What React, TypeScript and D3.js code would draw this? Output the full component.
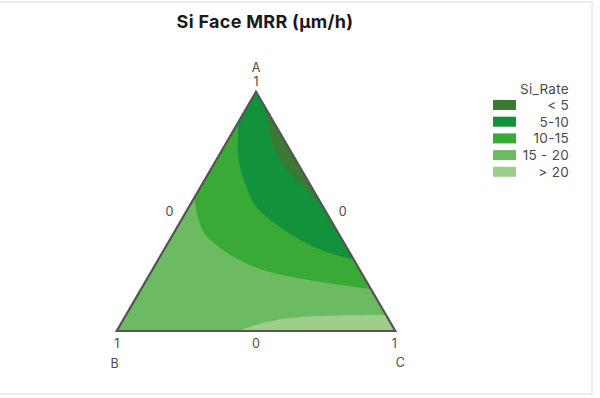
import React from 'react';
import { scaleLinear, line, curveCatmullRom } from 'd3';

// ternary points are [A, C], B = 1 - A - C
const bound15 = [[0.56, 0], [0.48, 0.05], [0.4, 0.12], [0.34, 0.21], [0.28, 0.33], [0.24, 0.45], [0.21, 0.6], [0.175, 0.825]];
const bound10 = [[0.875, 0], [0.81, 0.03], [0.715, 0.08], [0.62, 0.15], [0.52, 0.24], [0.44, 0.36], [0.37, 0.49], [0.32, 0.62], [0.3, 0.7]];
const bound5 = [[0.94, 0.06], [0.86, 0.115], [0.795, 0.16], [0.715, 0.23], [0.645, 0.31], [0.575, 0.41], [0.49, 0.51]];
const bound20 = [[0, 0.44], [0.03, 0.5], [0.053, 0.585], [0.063, 0.69], [0.066, 0.82], [0.067, 0.933]];

const legendLabels = ['< 5', '5-10', '10-15', '15 - 20', '> 20'];
const legendColors = ['#3b7a34', '#13913b', '#3aaa37', '#6cba61', '#9dcf89'];
const axisNames = ['A', 'B', 'C'];
const vertexTicks = ['1', '1', '1'];
const edgeTicks = ['0', '0', '0'];

const xScale = scaleLinear().domain([0, 1]).range([116.7, 395.3]);
const yScale = scaleLinear().domain([0, 1]).range([331, 91.7]);
const pt = (a: number, c: number): [number, number] => [xScale(c + a / 2), yScale(a)];

const curve = line<number[]>()
  .x((d) => pt(d[0], d[1])[0])
  .y((d) => pt(d[0], d[1])[1])
  .curve(curveCatmullRom);

function region(b: number[][], corner?: [number, number]) {
  let d = curve(b) || '';
  if (corner) {
    const p = pt(corner[0], corner[1]);
    d += `L${p[0]},${p[1]}`;
  }
  return d + 'Z';
}

export default function App() {
  const A = pt(1, 0);
  const B = pt(0, 0);
  const C = pt(0, 1);
  const tri = `M${A[0]},${A[1]}L${B[0]},${B[1]}L${C[0]},${C[1]}Z`;
  const midL = pt(0.5, 0);
  const midR = pt(0.5, 0.5);
  const midB = pt(0, 0.5);
  const font = 'Inter, "DejaVu Sans", sans-serif';
  const lab = '#4a4a4a';

  return (
    <svg width={600} height={398} style={{ position: 'absolute', left: 0, top: 0 }} fontFamily={font}>
      <rect x={-1} y={2} width={593} height={392} fill="#fff" stroke="#dcdcdc" />
      <text x={265} y={28} textAnchor="middle" fontSize={18} fontWeight={700} fill="#1a1a1a" letterSpacing={0.3}>
        Si Face MRR (µm/h)
      </text>

      <path d={tri} fill={legendColors[3]} />
      <path d={region(bound15, [1, 0])} fill={legendColors[2]} />
      <path d={region(bound10, [1, 0])} fill={legendColors[1]} />
      <path d={region(bound5)} fill={legendColors[0]} />
      <path d={region(bound20, [0, 1])} fill={legendColors[4]} />
      <path d={tri} fill="none" stroke="#555" strokeWidth={2.2} strokeLinejoin="miter" />

      <g fontSize={12.5} fill={lab} textAnchor="middle">
        <text x={A[0]} y={A[1] - 20}>{axisNames[0]}</text>
        <text x={A[0]} y={A[1] - 6}>{vertexTicks[0]}</text>
        <text x={B[0]} y={B[1] + 17}>{vertexTicks[1]}</text>
        <text x={B[0] - 2} y={B[1] + 37}>{axisNames[1]}</text>
        <text x={C[0] - 1} y={C[1] + 17}>{vertexTicks[2]}</text>
        <text x={C[0] + 5} y={C[1] + 36}>{axisNames[2]}</text>
        <text x={midL[0] - 17} y={midL[1] + 5}>{edgeTicks[0]}</text>
        <text x={midR[0] + 17} y={midR[1] + 5}>{edgeTicks[1]}</text>
        <text x={midB[0]} y={midB[1] + 17}>{edgeTicks[2]}</text>
      </g>

      <g fontSize={13.5} fill={lab} textAnchor="end" letterSpacing={0.3}>
        <text x={569} y={94}>Si_Rate</text>
        {legendLabels.map((l, i) => (
          <g key={l} transform={`translate(0,${105 + i * 16.7})`}>
            <rect x={493} y={-5} width={23} height={10} fill={legendColors[i]} />
            <text x={569} y={5}>{l}</text>
          </g>
        ))}
      </g>
    </svg>
  );
}
